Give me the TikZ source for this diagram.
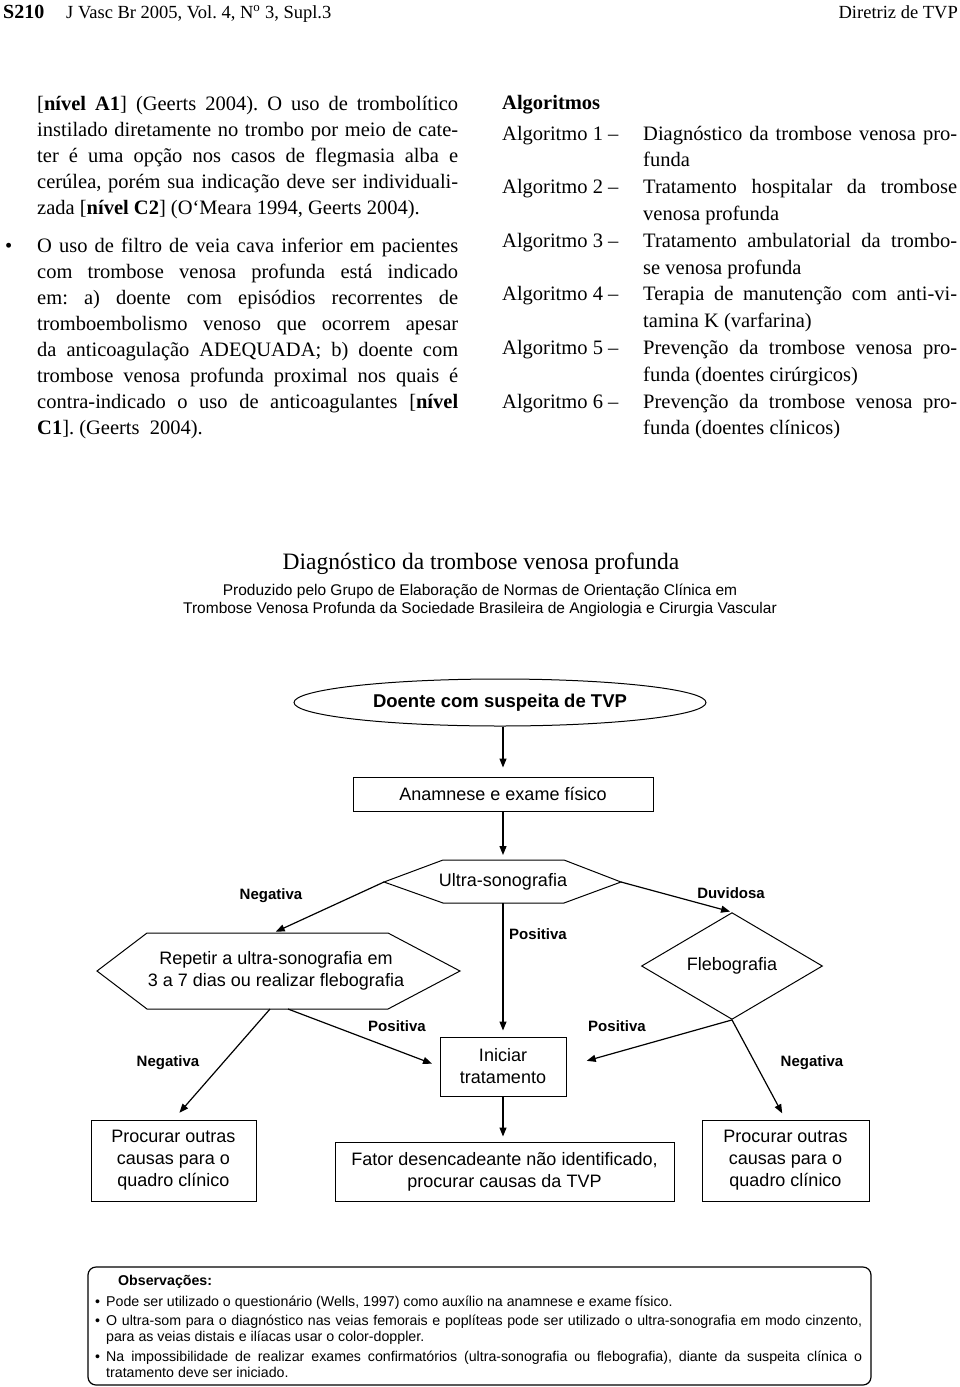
\documentclass[tikz,border=0pt]{standalone}
\usepackage{fontspec}
\setmainfont{Liberation Serif}
\setsansfont{Liberation Sans}
\usetikzlibrary{arrows.meta,shapes.geometric}
\frenchspacing

\newcommand{\txtbody}{\fontsize{20.5}{26}\selectfont}
\newcommand{\txtflow}{\fontsize{18}{22}\selectfont\sffamily}
\newcommand{\txtlbl}{\fontsize{15}{18}\selectfont\sffamily\bfseries}
\newcommand{\txtobs}{\fontsize{14.2}{16}\selectfont\sffamily}

\begin{document}
\begin{tikzpicture}[x=1pt,y=-1pt,
    txtline/.style={anchor=base west, inner sep=0pt, font=\txtbody},
    flowbox/.style={draw, line width=1pt, rectangle, inner sep=0pt, align=center, font=\txtflow},
    flowtxt/.style={inner sep=0pt, align=center, font=\txtflow},
    lbl/.style={inner sep=0pt, font=\txtlbl},
    arr/.style={line width=1.2pt, -{Triangle[length=9pt,width=7pt]}},
    obs/.style={anchor=base west, inner sep=0pt, font=\txtobs}]
\useasboundingbox (0,0) rectangle (960,1387);

% running head
\node[anchor=base west, inner sep=0pt, font=\fontsize{20}{24}\selectfont\bfseries] (pg) at (3,18) {S210};
\node[anchor=base west, inner sep=0pt, font=\fontsize{18.5}{22}\selectfont] (jr) at (66,18) {J Vasc Br 2005, Vol. 4, N\textsuperscript{o} 3, Supl.3};
\node[anchor=base east, inner sep=0pt, font=\fontsize{18.5}{22}\selectfont] (dt) at (958,18) {Diretriz de TVP};

% left column
\node[txtline] (l1) at (37,110) {\makebox[421pt][s]{[\textbf{nível A1}] (Geerts 2004). O uso de trombolítico}};
\node[txtline] (l2) at (37,136.1) {\makebox[421pt][s]{instilado diretamente no trombo por meio de cate-}};
\node[txtline] (l3) at (37,162.2) {\makebox[421pt][s]{ter é uma opção nos casos de flegmasia alba e}};
\node[txtline] (l4) at (37,188.3) {\makebox[421pt][s]{cerúlea, porém sua indicação deve ser individuali-}};
\node[txtline] (l5) at (37,214.4) {zada [\textbf{nível C2}] (O‘Meara 1994, Geerts 2004).};
\node[txtline] (bul) at (5,252) {•};
\node[txtline] (b1) at (37,252) {\makebox[421pt][s]{O uso de filtro de veia cava inferior em pacientes}};
\node[txtline] (b2) at (37,278.1) {\makebox[421pt][s]{com trombose venosa profunda está indicado}};
\node[txtline] (b3) at (37,304.2) {\makebox[421pt][s]{em: a) doente com episódios recorrentes de}};
\node[txtline] (b4) at (37,330.3) {\makebox[421pt][s]{tromboembolismo venoso que ocorrem apesar}};
\node[txtline] (b5) at (37,356.4) {\makebox[421pt][s]{da anticoagulação ADEQUADA; b) doente com}};
\node[txtline] (b6) at (37,382.5) {\makebox[421pt][s]{trombose venosa profunda proximal nos quais é}};
\node[txtline] (b7) at (37,408.6) {\makebox[421pt][s]{contra-indicado o uso de anticoagulantes [\textbf{nível}}};
\node[txtline] (b8) at (37,434.7) {\textbf{C1}]. (Geerts\ \ 2004).};

% right column
\node[txtline, font=\txtbody\bfseries] (alg) at (502,109) {Algoritmos};
\node[txtline] (a1) at (502,140) {Algoritmo 1 –};
\node[txtline] (d1) at (643,140) {\makebox[314pt][s]{Diagnóstico da trombose venosa pro-}};
\node[txtline] (e1) at (643,166.8) {funda};
\node[txtline] (a2) at (502,193.6) {Algoritmo 2 –};
\node[txtline] (d2) at (643,193.6) {\makebox[314pt][s]{Tratamento hospitalar da trombose}};
\node[txtline] (e2) at (643,220.4) {venosa profunda};
\node[txtline] (a3) at (502,247.2) {Algoritmo 3 –};
\node[txtline] (d3) at (643,247.2) {\makebox[314pt][s]{Tratamento ambulatorial da trombo-}};
\node[txtline] (e3) at (643,274) {se venosa profunda};
\node[txtline] (a4) at (502,300.8) {Algoritmo 4 –};
\node[txtline] (d4) at (643,300.8) {\makebox[314pt][s]{Terapia de manutenção com anti-vi-}};
\node[txtline] (e4) at (643,327.6) {tamina K (varfarina)};
\node[txtline] (a5) at (502,354.4) {Algoritmo 5 –};
\node[txtline] (d5) at (643,354.4) {\makebox[314pt][s]{Prevenção da trombose venosa pro-}};
\node[txtline] (e5) at (643,381.2) {funda (doentes cirúrgicos)};
\node[txtline] (a6) at (502,408) {Algoritmo 6 –};
\node[txtline] (d6) at (643,408) {\makebox[314pt][s]{Prevenção da trombose venosa pro-}};
\node[txtline] (e6) at (643,434.8) {funda (doentes clínicos)};

% titulo do algoritmo
\node[anchor=base, inner sep=0pt, font=\fontsize{23.5}{28}\selectfont] (tit) at (481,569) {Diagnóstico da trombose venosa profunda};
\node[anchor=base, inner sep=0pt, font=\fontsize{15.5}{18}\selectfont\sffamily] (sub1) at (480,595) {Produzido pelo Grupo de Elaboração de Normas de Orientação Clínica em};
\node[anchor=base, inner sep=0pt, font=\fontsize{15.5}{18}\selectfont\sffamily] (sub2) at (480,613) {Trombose Venosa Profunda da Sociedade Brasileira de Angiologia e Cirurgia Vascular};

% fluxograma
\node[ellipse, draw, line width=1pt, minimum width=412pt, minimum height=47pt, inner sep=0pt, font=\fontsize{18.5}{22}\selectfont\sffamily\bfseries] (susp) at (500,702.5) {Doente com suspeita de TVP};
\node[flowbox, minimum width=300pt, minimum height=34pt] (anam) at (503,794) {Anamnese e exame físico};
\draw[arr, shorten >=9pt] (anam.north |- susp.south) -- (anam.north);

\node[flowtxt] (us) at (503,882) {Ultra-sonografia};
\coordinate (usL) at (384,882);
\coordinate (usR) at (621,882);
\coordinate (usT) at (503,860);
\coordinate (usB) at (503,903);
\draw[line width=1pt] (usL) -- (443,860) -- (564,860) -- (usR) -- (564,903) -- (443,903) -- cycle;
\draw[arr, shorten >=5pt] (anam.south) -- (usT);

\node[flowtxt] (rep) at (276,971) {Repetir a ultra-sonografia em\\3 a 7 dias ou realizar flebografia};
\coordinate (repL) at (97,971);
\coordinate (repR) at (460,971);
\coordinate (repT) at (273,933);
\coordinate (repB1) at (270,1009);
\coordinate (repB2) at (288,1009);
\draw[line width=1pt] (repL) -- (147,933) -- (388,933) -- (repR) -- (388,1009) -- (147,1009) -- cycle;

\node[diamond, draw, line width=1pt, minimum width=181pt, minimum height=64pt, inner sep=0pt, font=\txtflow] (fleb) at (732,966) {Flebografia};

\node[flowbox, minimum width=126pt, minimum height=59pt] (ini) at (503,1066.5) {Iniciar\\tratamento};
\node[flowbox, minimum width=165pt, minimum height=81pt] (procL) at (173.5,1160.5) {Procurar outras\\causas para o\\quadro clínico};
\node[flowbox, minimum width=339pt, minimum height=59pt] (fator) at (504.5,1171.5) {Fator desencadeante não identificado,\\procurar causas da TVP};
\node[flowbox, minimum width=167pt, minimum height=81pt] (procR) at (785.5,1160.5) {Procurar outras\\causas para o\\quadro clínico};

\draw[arr, shorten >=3pt] (usL) -- (repT);
\draw[arr, shorten >=2pt] (usR) -- (fleb.north);
\draw[arr, shorten >=6pt] (usB) -- (usB |- ini.north);
\draw[arr, shorten >=9pt] (repB1) -- (procL.north);
\draw[arr, shorten >=8pt] (repB2) -- (ini.west);
\draw[arr, shorten >=21pt] (fleb.south) -- (ini.east);
\draw[arr, shorten >=7pt] (fleb.south) -- (procR.north);
\draw[arr, shorten >=5pt] (ini.south) -- (ini.south |- fator.north);

\node[lbl] (ngA) at (271,896) {Negativa};
\node[lbl] (dvA) at (731,893) {Duvidosa};
\node[lbl] (psA) at (538,934) {Positiva};
\node[lbl] (psB) at (397,1026) {Positiva};
\node[lbl] (psC) at (617,1026) {Positiva};
\node[lbl] (ngB) at (168,1063) {Negativa};
\node[lbl] (ngC) at (812,1063) {Negativa};

% observacoes
\draw[line width=1.2pt, rounded corners=8pt] (88,1267) rectangle (871,1385);
\node[obs, font=\txtobs\bfseries] (obsT) at (118,1285) {Observações:};
\node[obs] (ob1) at (95,1306) {•};
\node[obs] (o1) at (106,1306) {Pode ser utilizado o questionário (Wells, 1997) como auxílio na anamnese e exame físico.};
\node[obs] (ob2) at (95,1325) {•};
\node[obs] (o2) at (106,1325) {\makebox[756pt][s]{O ultra-som para o diagnóstico nas veias femorais e poplíteas pode ser utilizado o ultra-sonografia em modo cinzento,}};
\node[obs] (o3) at (106,1341) {para as veias distais e ilíacas usar o color-doppler.};
\node[obs] (ob3) at (95,1361) {•};
\node[obs] (o4) at (106,1361) {\makebox[756pt][s]{Na impossibilidade de realizar exames confirmatórios (ultra-sonografia ou flebografia), diante da suspeita clínica o}};
\node[obs] (o5) at (106,1377) {tratamento deve ser iniciado.};
\end{tikzpicture}
\end{document}
